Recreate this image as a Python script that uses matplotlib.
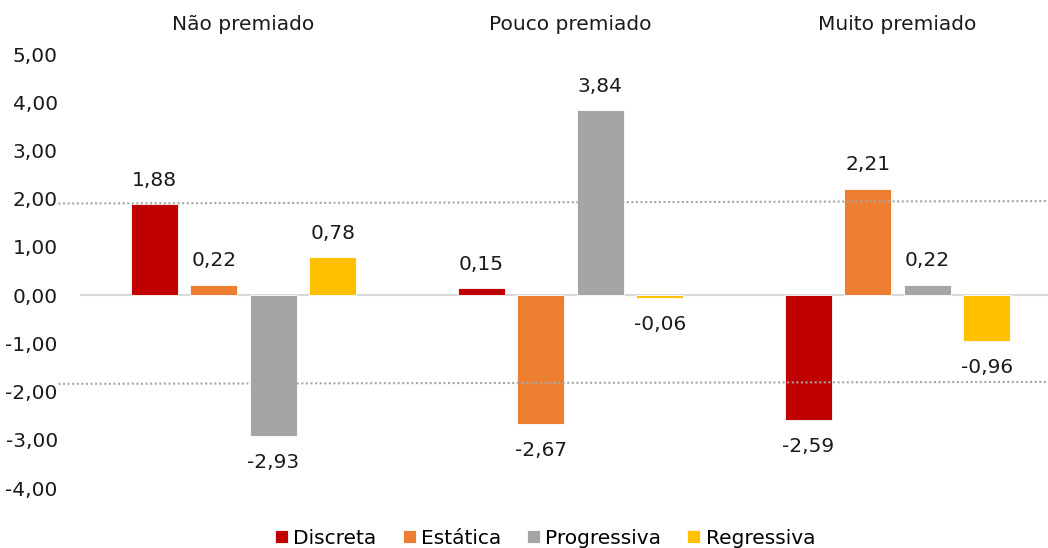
import matplotlib
matplotlib.use("Agg")
import matplotlib.pyplot as plt
import matplotlib.transforms as mtransforms
import numpy as np

groups = ["Não premiado", "Pouco premiado", "Muito premiado"]
series = ["Discreta", "Estática", "Progressiva", "Regressiva"]
values = {
    "Discreta": [1.88, 0.15, -2.59],
    "Estática": [0.22, -2.67, 2.21],
    "Progressiva": [-2.93, 3.84, 0.22],
    "Regressiva": [0.78, -0.06, -0.96],
}
colors = ["#C00000", "#ED7D31", "#A5A5A5", "#FFC000"]
upper_line = [1.90, 1.95]
lower_line = [-1.84, -1.80]
yticks = [5, 4, 3, 2, 1, 0, -1, -2, -3, -4]

plt.rcParams["font.family"] = ["DejaVu Sans"]
fs = 14.5
tc = "#1a1a1a"

fig = plt.figure(figsize=(10.48, 5.48), dpi=100)
ax = fig.add_axes([80 / 1048, 60 / 548, 981 / 1048, 434 / 548])

x = np.arange(len(groups))
step = 0.182
width = 0.144
for i, (name, col) in enumerate(zip(series, colors)):
    pos = x + (i - 1.5) * step
    vals = values[name]
    ax.bar(pos, vals, width, color=col, label=name, edgecolor="white", linewidth=0.6, zorder=2)
    for p, v in zip(pos, vals):
        lab = f"{v:.2f}".replace(".", ",")
        off = 17 if v >= 0 else -19
        ax.annotate(lab, (p, v), xytext=(0, off), textcoords="offset points",
                    ha="center", va="center", fontsize=fs, color=tc)

ax.set_xlim(-0.5, 2.5)
ax.set_ylim(-4, 5)
ax.set_yticks(yticks)
ax.set_yticklabels([f"{t:.2f}".replace(".", ",") for t in yticks], fontsize=fs, color=tc)
ax.tick_params(axis="y", length=0, pad=16)
ax.set_xticks([])
for s in ax.spines.values():
    s.set_visible(False)
ax.axhline(0, color="#D9D9D9", linewidth=1.5, zorder=1)

trans = mtransforms.blended_transform_factory(ax.transAxes, ax.transData)
ax.plot([-0.022, 0.99], upper_line, color="#A6A6A6", linestyle=(0, (1, 1.2)), linewidth=1.5,
        transform=trans, clip_on=False, zorder=3)
ax.plot([-0.022, 0.99], lower_line, color="#A6A6A6", linestyle=(0, (1, 1.2)), linewidth=1.5,
        transform=trans, clip_on=False, zorder=3)

for i, g in enumerate(groups):
    ax.annotate(g, (i, 1.0), xycoords=("data", "axes fraction"), xytext=(0, 21),
                textcoords="offset points", ha="center", va="center", fontsize=fs, color=tc)

fig.legend(loc="center", bbox_to_anchor=(545 / 1048, 10 / 548), ncol=4, frameon=False,
           fontsize=fs, handlelength=0.65, handleheight=0.65, handletextpad=0.25, columnspacing=1.3)

fig.savefig("out.png", dpi=100)
